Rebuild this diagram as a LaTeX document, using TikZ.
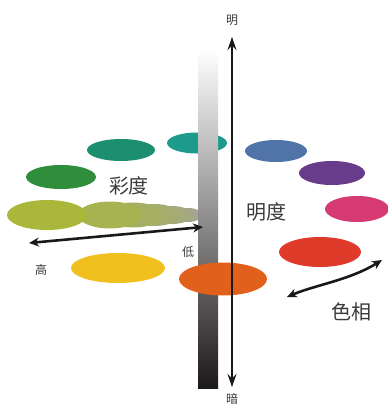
\documentclass[tikz,border=0pt]{standalone}
\usepackage{fontspec}
\setmainfont{Noto Sans CJK SC}
\usetikzlibrary{arrows.meta}

\definecolor{tealtop}{HTML}{1C9A8C}
\definecolor{tealleft}{HTML}{1B8F6F}
\definecolor{leafgreen}{HTML}{2F8E3C}
\definecolor{olive}{HTML}{A9B83A}
\definecolor{chaingray}{HTML}{A2A29C}
\definecolor{sunyellow}{HTML}{F0C01E}
\definecolor{burnorange}{HTML}{E0601C}
\definecolor{steelblue}{HTML}{5073A8}
\definecolor{plum}{HTML}{693C8B}
\definecolor{rosered}{HTML}{D63A72}
\definecolor{brickred}{HTML}{E03A2A}
\definecolor{labelgray}{HTML}{3A3A3A}
\definecolor{bardark}{HTML}{1E1919}

\tikzset{
    blob/.style={fill=#1, draw=none},
    biglabel/.style={text=labelgray, font=\fontsize{20}{20}\selectfont, inner sep=0pt},
    smalllabel/.style={text=labelgray, font=\fontsize{12}{12}\selectfont, inner sep=0pt},
    axisarrow/.style={{Stealth[length=13pt,width=9pt]}-{Stealth[length=13pt,width=9pt]}, line width=1.4pt, black!90},
    widearrow/.style={{Stealth[length=10pt,width=9pt]}-{Stealth[length=10pt,width=9pt]}, line width=2.6pt, black!90}
}

\begin{document}
\begin{tikzpicture}[x=1pt,y=-1pt]
    \useasboundingbox (0,0) rectangle (388,408);

    % hue ring, back part
    \fill[blob=tealtop] (197,143) ellipse [x radius=30, y radius=10.5];
    \fill[blob=tealleft] (121,150) ellipse [x radius=34, y radius=11];
    \fill[blob=steelblue] (276,151) ellipse [x radius=31, y radius=11];
    \fill[blob=leafgreen] (61,177) ellipse [x radius=35, y radius=12];
    \fill[blob=plum] (332,173) ellipse [x radius=33, y radius=12];
    \fill[blob=rosered] (357,209) ellipse [x radius=32, y radius=13];
    \fill[blob=brickred] (320,252) ellipse [x radius=41, y radius=15];
    \fill[blob=sunyellow] (118,268) ellipse [x radius=47, y radius=15];

    % saturation chain
    \foreach \cx/\rx/\ry/\mix in {188/14/7/15, 172/20/9/30, 154/26/11/45, 133/30/12.5/60, 110/32/13.5/78}
        \fill[blob=olive!\mix!chaingray] (\cx,215) ellipse [x radius=\rx, y radius=\ry];
    \fill[blob=olive] (47,215) ellipse [x radius=40, y radius=15];

    % lightness bar
    \shade[top color=white, bottom color=bardark] (198,50) rectangle (218,388);

    \fill[blob=burnorange] (223,279) ellipse [x radius=44, y radius=16.5];

    % axes
    \coordinate (light) at (232,37);
    \coordinate (dark) at (232,387);
    \coordinate (high) at (29,243);
    \coordinate (low) at (203,227);
    \coordinate (hueleft) at (287,297);
    \coordinate (hueright) at (382,260);

    \draw [axisarrow] (dark) -- (light);
    \draw [widearrow] (high) -- (low);
    \draw [widearrow] (hueleft) .. controls (315,285) and (350,280) .. (hueright);

    \node [smalllabel] (lightlbl) at (232,20) {明};
    \node [smalllabel] (darklbl) at (232,399) {暗};
    \node [smalllabel] (highlbl) at (41,270) {高};
    \node [smalllabel] (lowlbl) at (188,252) {低};
    \node [biglabel] (satlbl) at (129,186) {彩度};
    \node [biglabel] (valuelbl) at (266,212) {明度};
    \node [biglabel] (huelbl) at (351,312) {色相};
\end{tikzpicture}
\end{document}
